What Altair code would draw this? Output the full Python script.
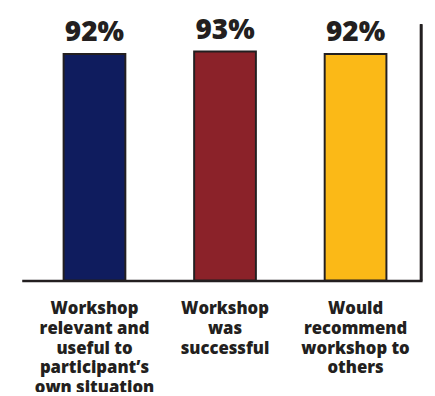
import altair as alt
import pandas as pd

categories = ["Workshop|relevant and|useful to|participant\u2019s|own situation",
              "Workshop|was|successful",
              "Would|recommend|workshop to|others"]
values = [92, 93, 92]
labels = ["92%", "93%", "92%"]
colors = ["#0F1C5E", "#8B2229", "#FBB917"]

df = pd.DataFrame({"cat": categories, "val": values, "lab": labels, "col": colors})

FONT = "Open Sans"

x = alt.X("cat:N", sort=categories, title=None,
          scale=alt.Scale(paddingInner=0.527, paddingOuter=0.297, align=0.54),
          axis=alt.Axis(labelExpr="split(datum.label, '|')", labelAngle=0,
                        labelFont=FONT, labelFontWeight=800, labelFontSize=17,
                        labelColor="#231F20", labelLineHeight=20, labelPadding=21,
                        labelBaseline="top", ticks=False, domainColor="#231F20",
                        domainWidth=2.5, labelLimit=200))
y = alt.Y("val:Q", scale=alt.Scale(domain=[0, 104], nice=False), axis=None)

bars = alt.Chart(df).mark_bar(stroke="#231F20", strokeWidth=2).encode(
    x=x, y=y, color=alt.Color("col:N", scale=None))

text = alt.Chart(df).mark_text(baseline="alphabetic", dy=-13, font=FONT, fontWeight=800,
                               fontSize=28.5, color="#231F20").encode(
    x=alt.X("cat:N", sort=categories), y="val:Q", text="lab:N")

edge = alt.Chart(df).mark_rule(color="#231F20", strokeWidth=2.5).encode(
    x=alt.value(407), y=alt.value(0), y2=alt.value(261))

chart = alt.layer(bars, text, edge).properties(
    width=408, height=261,
    autosize=alt.AutoSizeParams(type="none"),
    padding={"left": 14, "top": 13, "right": 5, "bottom": 110},
    background="white"
).configure_view(stroke=None)

chart.save("out.html", embed_options={"renderer": "svg", "actions": False})
